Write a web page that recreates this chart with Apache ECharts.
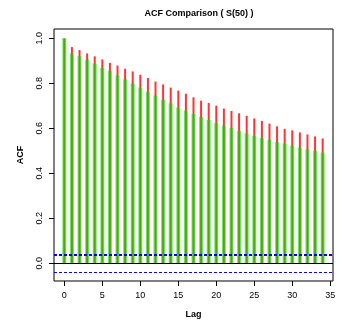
<!DOCTYPE html>
<html>
<head>
<meta charset="utf-8">
<script src="https://cdn.jsdelivr.net/npm/echarts@6/dist/echarts.min.js"></script>
<style>html,body{margin:0;padding:0;background:#fff;}#c{width:340px;height:327px;}</style>
</head>
<body>
<div id="c"></div>
<script>
const lags = [0,1,2,3,4,5,6,7,8,9,10,11,12,13,14,15,16,17,18,19,20,21,22,23,24,25,26,27,28,29,30,31,32,33,34];
const acfRed = [1.0,0.961,0.948,0.933,0.920,0.906,0.891,0.879,0.865,0.853,0.838,0.824,0.808,0.795,0.781,0.768,0.754,0.738,0.723,0.713,0.701,0.688,0.677,0.667,0.656,0.644,0.633,0.621,0.609,0.598,0.591,0.582,0.573,0.564,0.555];
const acfGreen = [1.0,0.933,0.921,0.906,0.888,0.869,0.856,0.836,0.818,0.799,0.781,0.763,0.746,0.728,0.711,0.693,0.679,0.664,0.652,0.637,0.624,0.613,0.601,0.589,0.577,0.567,0.557,0.549,0.540,0.533,0.524,0.515,0.507,0.501,0.492];
const ciBound = 0.037;
const xTicks = [0,5,10,15,20,25,30,35];
const yTicks = [0,0.2,0.4,0.6,0.8,1.0];
const titleText = 'ACF Comparison ( S(50) )';

const FONT = "'Liberation Sans', Arial, sans-serif";
const chart = echarts.init(document.getElementById('c'), null, {renderer: 'canvas'});

function barRenderer(width, color) {
  return function (params, api) {
    const x = api.value(0), y = api.value(1);
    const top = api.coord([x, y]);
    const base = api.coord([x, 0]);
    return {
      type: 'rect',
      shape: {x: top[0] - width / 2, y: Math.min(top[1], base[1]), width: width, height: Math.abs(base[1] - top[1])},
      style: {fill: color}
    };
  };
}

chart.setOption({
  animation: false,
  title: {
    text: titleText, left: 194, top: 4, textAlign: 'center',
    textStyle: {fontFamily: FONT, fontSize: 9, fontWeight: 'bold', color: '#000'}
  },
  grid: {left: 54, right: 7, top: 29, bottom: 46, show: true, borderColor: '#000', borderWidth: 1, backgroundColor: 'transparent'},
  xAxis: {
    type: 'value', min: -1.36, max: 35.36,
    name: 'Lag', nameLocation: 'middle', nameGap: 29,
    nameTextStyle: {fontFamily: FONT, fontSize: 9, fontWeight: 'bold', color: '#000'},
    axisLine: {show: false, onZero: false},
    splitLine: {show: false},
    axisTick: {show: true, length: 5, customValues: xTicks, lineStyle: {color: '#000'}},
    axisLabel: {customValues: xTicks, margin: 10, fontFamily: FONT, fontSize: 9, color: '#000'}
  },
  yAxis: {
    type: 'value', min: -0.0785, max: 1.0415,
    name: 'ACF', nameLocation: 'middle', nameGap: 29, nameRotate: 90,
    nameTextStyle: {fontFamily: FONT, fontSize: 9, fontWeight: 'bold', color: '#000'},
    axisLine: {show: false, onZero: false},
    splitLine: {show: false},
    axisTick: {show: true, length: 5, customValues: yTicks, lineStyle: {color: '#000'}},
    axisLabel: {customValues: yTicks, rotate: 90, margin: 10, fontFamily: FONT, fontSize: 9, color: '#000',
      formatter: v => v.toFixed(1)}
  },
  series: [
    {
      type: 'custom', name: 'red',
      data: lags.map((l, i) => [l, acfRed[i]]),
      renderItem: barRenderer(2, 'rgba(255,0,0,0.8)'),
      z: 2,
      markLine: {
        silent: true, symbol: 'none', label: {show: false},
        data: [
          {yAxis: 0, lineStyle: {color: '#000', width: 1, type: 'solid'}}
        ]
      }
    },
    {
      type: 'custom', name: 'green',
      data: lags.map((l, i) => [l, acfGreen[i]]),
      renderItem: barRenderer(4, 'rgba(0,225,0,0.6)'),
      z: 3,
      markLine: {
        silent: true, symbol: 'none', label: {show: false},
        data: [
          {yAxis: ciBound, lineStyle: {color: '#0000ff', width: 2, type: [3, 2]}},
          {yAxis: -ciBound, lineStyle: {color: '#0000ff', width: 1, type: [3, 2]}}
        ]
      }
    }
  ]
});
</script>
</body>
</html>
